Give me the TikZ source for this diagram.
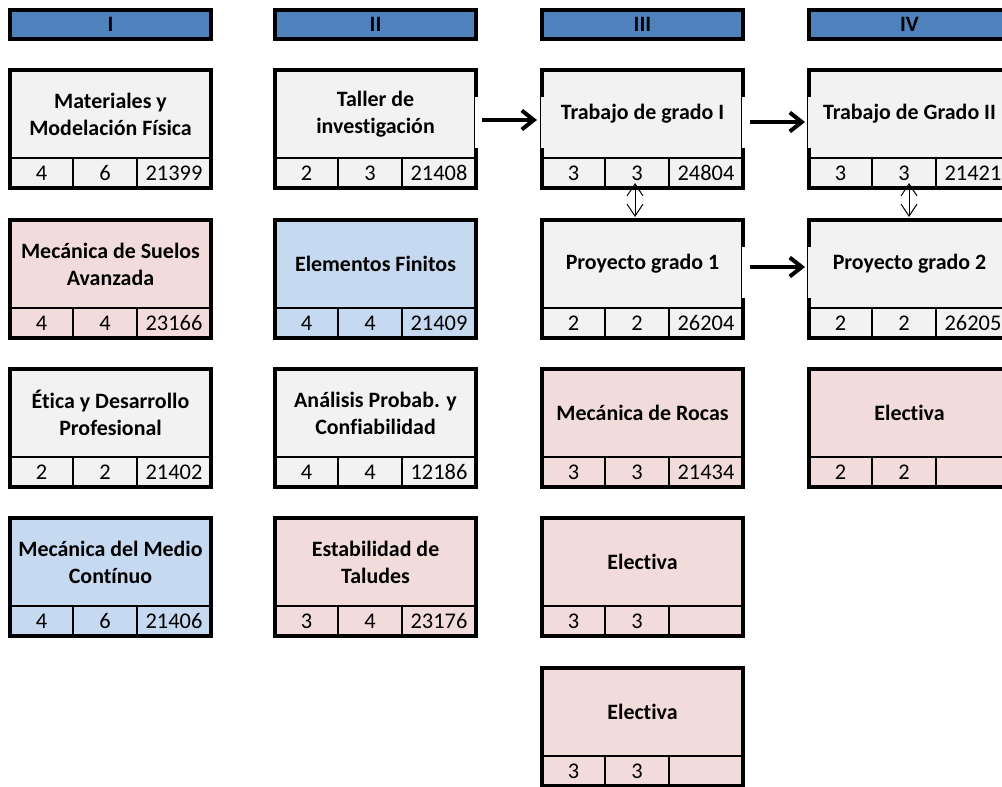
\documentclass[tikz,border=0pt]{standalone}
\usepackage{fontspec}
\setmainfont{Carlito}[Ligatures={NoCommon}]
\usetikzlibrary{arrows.meta,calc}
\definecolor{hdr}{HTML}{4F81BD}
\definecolor{gry}{HTML}{F2F2F2}
\definecolor{pnk}{HTML}{F2DCDB}
\definecolor{lbl}{HTML}{C5D9F1}
\tikzset{
  titlebox/.style={draw=none, inner sep=0pt, outer sep=0pt, minimum width=201bp, minimum height=88bp,
    anchor=north west, align=center, font=\fontsize{22}{27}\selectfont\bfseries},
  cellbox/.style={draw=black, line width=2bp, inner sep=0pt, outer sep=0pt, minimum height=30bp,
    anchor=north west, font=\fontsize{22.5}{24}\selectfont},
  framebox/.style={draw=black, line width=4bp},
  hdrbox/.style={draw=black, line width=3.5bp, fill=hdr, inner sep=0pt, outer sep=0pt,
    minimum width=201bp, minimum height=29bp, anchor=north west, font=\fontsize{22}{24}\selectfont\bfseries},
  flow/.style={line width=4bp, -{Straight Barb[length=12bp,width=19bp]}},
  link/.style={line width=1bp, {Straight Barb[length=12bp,width=16bp]}-{Straight Barb[length=12bp,width=16bp]}},
}
\newcommand\course[8]{%
  \node[titlebox, fill=#4] (#1) at (#2,#3) {#5};
  \node[cellbox, fill=#4, minimum width=63bp] (#1-a) at (#2,#3+88) {#6};
  \node[cellbox, fill=#4, minimum width=64bp] (#1-b) at (#1-a.north east) {#7};
  \node[cellbox, fill=#4, minimum width=74bp] (#1-c) at (#1-b.north east) {#8};
  \draw[framebox] (#1.north west) rectangle (#1-c.south east);
}
\newcommand\gapR[1]{%
  \fill[white] ($(#1.north east)+(-1.5,27)$) rectangle ($(#1.north east)+(2.5,78)$);
  \draw[line width=1bp] ($(#1.north east)+(-1.5,27)$) -- ($(#1.north east)+(-1.5,78)$);}
\newcommand\gapL[2]{%
  \fill[#2] ($(#1.north west)+(-1.5,27)$) rectangle ($(#1.north west)+(2.5,78)$);
  \draw[line width=1bp] ($(#1.north west)+(-1.5,27)$) -- ($(#1.north west)+(-1.5,78)$);}
\begin{document}
\begin{tikzpicture}[x=1bp,y=-1bp]
\path[use as bounding box] (0,0) rectangle (1002,787);
\clip (0,0) rectangle (1002,787);
% headers
\node[hdrbox] (h1) at (10,10) {I};
\node[hdrbox] (h2) at (275,10) {II};
\node[hdrbox] (h3) at (542,10) {III};
\node[hdrbox] (h4) at (809,10) {IV};
% column I
\course{mat}{10}{70}{gry}{Materiales y\\Modelación Física}{4}{6}{21399}
\course{msa}{10}{220}{pnk}{Mecánica de Suelos\\Avanzada}{4}{4}{23166}
\course{eti}{10}{369}{gry}{Ética y Desarrollo\\Profesional}{2}{2}{21402}
\course{mmc}{10}{518}{lbl}{Mecánica del Medio\\Contínuo}{4}{6}{21406}
% column II
\course{tal}{275}{70}{gry}{Taller de\\investigación}{2}{3}{21408}
\course{elf}{275}{220}{lbl}{Elementos Finitos}{4}{4}{21409}
\course{apc}{275}{369}{gry}{Análisis Probab. y\\Confiabilidad}{4}{4}{12186}
\course{est}{275}{518}{pnk}{Estabilidad de\\Taludes}{3}{4}{23176}
% column III
\course{tr1}{542}{70}{gry}{Trabajo de grado I}{3}{3}{24804}
\course{pr1}{542}{220}{gry}{Proyecto grado 1}{2}{2}{26204}
\course{roc}{542}{369}{pnk}{Mecánica de Rocas}{3}{3}{21434}
\course{el3}{542}{518}{pnk}{Electiva}{3}{3}{}
\course{el4}{542}{668}{pnk}{Electiva}{3}{3}{}
% column IV
\course{tr2}{809}{70}{gry}{Trabajo de Grado II}{3}{3}{21421}
\course{pr2}{809}{220}{gry}{Proyecto grado 2}{2}{2}{26205}
\course{el5}{809}{369}{pnk}{Electiva}{2}{2}{}
% thin border segments where arrows meet
\gapR{tal}
\gapL{tr1}{gry}
\gapR{tr1}
\gapL{tr2}{gry}
\gapR{pr1}
\gapL{pr2}{gry}
% arrows
\draw[flow] ($(tal.east)+(6,6)$) -- ($(tr1.west)+(-5,6)$);
\draw[flow] ($(tr1.east)+(7,8)$) -- ($(tr2.west)+(-4,8)$);
\draw[flow] ($(pr1.east)+(7,3)$) -- ($(pr2.west)+(-4,3)$);
\draw[link] ($(tr1-b.south)+(-2,-5)$) -- ($(tr1-b.south |- pr1.north)+(-2,-3)$);
\draw[link] ($(tr2-b.south)+(5,-5)$) -- ($(tr2-b.south |- pr2.north)+(5,-3)$);
\end{tikzpicture}
\end{document}
